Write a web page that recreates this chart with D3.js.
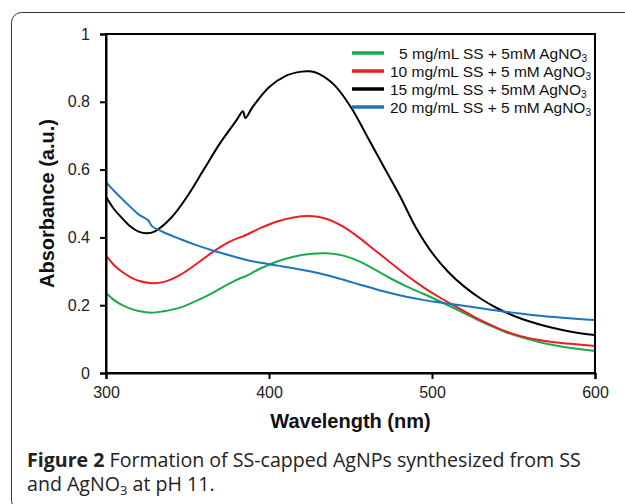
<!DOCTYPE html>
<html>
<head>
<meta charset="utf-8">
<script src="https://cdn.jsdelivr.net/npm/d3@7"></script>
<style>
  body { margin: 0; background: #fff; }
  svg { display: block; }
</style>
</head>
<body>
<div class="chart-container"></div>
<script>
const width = 625;
const height = 504;

// series names
const seriesNames = [
  ['5 mg/mL SS + 5mM AgNO', '3'],
  ['10 mg/mL SS + 5 mM AgNO', '3'],
  ['15 mg/mL SS + 5mM AgNO', '3'],
  ['20 mg/mL SS + 5 mM AgNO', '3']
];
const seriesColors = ['#1aab4b', '#ee1c24', '#000000', '#1b75bc'];

// [wavelength, absorbance]
const green5 = [
  [300, 0.236], [305, 0.215], [310, 0.200], [315, 0.190], [320, 0.183], [328, 0.178],
  [335, 0.182], [345, 0.192], [355, 0.212], [365, 0.235], [375, 0.262], [383, 0.281],
  [385, 0.284], [395, 0.309], [405, 0.329], [415, 0.343], [425, 0.351], [435, 0.353],
  [445, 0.347], [455, 0.330], [465, 0.305], [475, 0.278], [485, 0.254], [495, 0.233],
  [505, 0.211], [515, 0.188], [525, 0.164], [535, 0.141], [545, 0.121], [555, 0.105],
  [565, 0.092], [575, 0.082], [585, 0.074], [600, 0.065]
];
const red10 = [
  [300, 0.347], [305, 0.318], [310, 0.298], [315, 0.283], [320, 0.272], [328, 0.265],
  [335, 0.268], [345, 0.288], [355, 0.320], [365, 0.355], [375, 0.385], [382, 0.400],
  [384, 0.403], [395, 0.428], [405, 0.447], [415, 0.459], [425, 0.463], [435, 0.455],
  [445, 0.433], [455, 0.400], [465, 0.362], [475, 0.324], [485, 0.286], [495, 0.252],
  [505, 0.222], [515, 0.195], [525, 0.168], [535, 0.144], [545, 0.123], [555, 0.108],
  [565, 0.098], [575, 0.091], [585, 0.086], [600, 0.080]
];
const black15 = [
  [300, 0.520], [305, 0.483], [310, 0.456], [315, 0.432], [320, 0.417], [325, 0.412],
  [330, 0.418], [340, 0.458], [350, 0.522], [360, 0.600], [370, 0.678], [380, 0.745],
  [384, 0.772], [385.5, 0.752], [390, 0.785], [400, 0.843], [410, 0.876], [420, 0.889],
  [425, 0.890], [430, 0.884], [440, 0.850], [450, 0.786], [460, 0.700], [470, 0.612],
  [480, 0.525], [490, 0.430], [500, 0.355], [510, 0.298], [520, 0.254], [530, 0.219],
  [540, 0.191], [550, 0.169], [560, 0.152], [570, 0.138], [580, 0.127], [590, 0.118],
  [600, 0.112]
];
const blue20 = [
  [300, 0.563], [305, 0.537], [310, 0.513], [315, 0.490], [320, 0.468], [326, 0.450],
  [328, 0.434], [335, 0.416], [345, 0.396], [355, 0.378], [365, 0.362], [375, 0.348],
  [385, 0.335], [395, 0.325], [405, 0.317], [415, 0.309], [425, 0.300], [435, 0.289],
  [445, 0.276], [455, 0.262], [465, 0.248], [475, 0.235], [485, 0.224], [495, 0.215],
  [505, 0.208], [515, 0.201], [530, 0.191], [545, 0.181], [560, 0.172], [575, 0.165],
  [590, 0.159], [600, 0.156]
];
const seriesData = [green5, red10, black15, blue20];

const xTicks = [300, 400, 500, 600];
const yTicks = [0, 0.2, 0.4, 0.6, 0.8, 1];

const margin = { top: 34, right: 30, bottom: 131, left: 106 };
const plotW = width - margin.left - margin.right;
const plotH = height - margin.top - margin.bottom;

const svg = d3.select('.chart-container').append('svg')
  .attr('xmlns', 'http://www.w3.org/2000/svg')
  .attr('width', width)
  .attr('height', height);

// figure frame (runs off the right and bottom edges)
svg.append('rect')
  .attr('x', 11.5).attr('y', 12.5)
  .attr('width', 640).attr('height', 498)
  .attr('rx', 10).attr('ry', 10)
  .attr('fill', 'none')
  .attr('stroke', '#333')
  .attr('stroke-width', 1);

const group = svg.append('g').attr('transform', 'translate(' + margin.left + ',' + margin.top + ')');

const scaleX = d3.scaleLinear().domain([300, 600]).range([0, plotW]);
const scaleY = d3.scaleLinear().domain([0, 1]).range([plotH, 0]);

const line = d3.line()
  .x((d) => { return scaleX(d[0]); })
  .y((d) => { return scaleY(d[1]); })
  .curve(d3.curveCatmullRom.alpha(0.5));

seriesData.forEach((data, i) => {
  group.append('path')
    .attr('d', line(data))
    .attr('fill', 'none')
    .attr('stroke', seriesColors[i])
    .attr('stroke-width', 2);
});

// plot box
group.append('rect')
  .attr('width', plotW).attr('height', plotH)
  .attr('fill', 'none')
  .attr('stroke', '#000')
  .attr('stroke-width', 2);

const axisY = group.append('g')
  .call(d3.axisLeft(scaleY).tickValues(yTicks).tickSize(6).tickPadding(10)
    .tickFormat((d) => { return d === 0 || d === 1 ? d3.format('d')(d) : d3.format('.1f')(d); }));
const axisX = group.append('g')
  .attr('transform', 'translate(0,' + plotH + ')')
  .call(d3.axisBottom(scaleX).tickValues(xTicks).tickSize(6).tickPadding(8));

[axisX, axisY].forEach((ax) => {
  ax.select('.domain').attr('stroke', '#000').attr('stroke-width', 2);
  ax.selectAll('.tick line').attr('stroke', '#000').attr('stroke-width', 2);
  ax.selectAll('.tick text')
    .attr('font-family', 'Liberation Sans, Arial, sans-serif')
    .attr('font-size', 16)
    .attr('fill', '#222');
});

// axis titles
svg.append('text')
  .attr('transform', 'translate(54,' + (margin.top + plotH / 2) + ') rotate(-90)')
  .attr('text-anchor', 'middle')
  .attr('font-family', 'Liberation Sans, Arial, sans-serif')
  .attr('font-weight', 'bold')
  .attr('font-size', 20)
  .attr('fill', '#111')
  .text('Absorbance (a.u.)');

svg.append('text')
  .attr('x', margin.left + plotW / 2)
  .attr('y', 428)
  .attr('text-anchor', 'middle')
  .attr('font-family', 'Liberation Sans, Arial, sans-serif')
  .attr('font-weight', 'bold')
  .attr('font-size', 20)
  .attr('fill', '#111')
  .text('Wavelength (nm)');

// legend
const legend = group.append('g');
seriesNames.forEach((name, i) => {
  const y = 19 + i * 18;
  legend.append('line')
    .attr('x1', 246).attr('x2', 278)
    .attr('y1', y).attr('y2', y)
    .attr('stroke', seriesColors[i])
    .attr('stroke-width', 3.5);
  const t = legend.append('text')
    .attr('x', i === 0 ? 293 : 284)
    .attr('y', y + 5.5)
    .attr('font-family', 'Liberation Sans, Arial, sans-serif')
    .attr('font-size', 15.5)
    .attr('fill', '#111');
  t.append('tspan').text(name[0]);
  t.append('tspan').attr('font-size', 10).attr('dy', 3).text(name[1]);
});

// caption
const caption = svg.append('text')
  .attr('font-family', 'Open Sans, Noto Sans, sans-serif')
  .attr('font-size', 19.6)
  .attr('fill', '#222');
const line1 = caption.append('tspan').attr('x', 27).attr('y', 467);
line1.append('tspan').attr('font-weight', 'bold').text('Figure 2');
line1.append('tspan').text(' Formation of SS-capped AgNPs synthesized from SS');
const line2 = caption.append('tspan').attr('x', 27).attr('y', 491);
line2.append('tspan').text('and AgNO');
line2.append('tspan').attr('font-size', 13).attr('dy', 4).text('3');
line2.append('tspan').attr('dy', -4).text(' at pH 11.');
</script>
</body>
</html>
